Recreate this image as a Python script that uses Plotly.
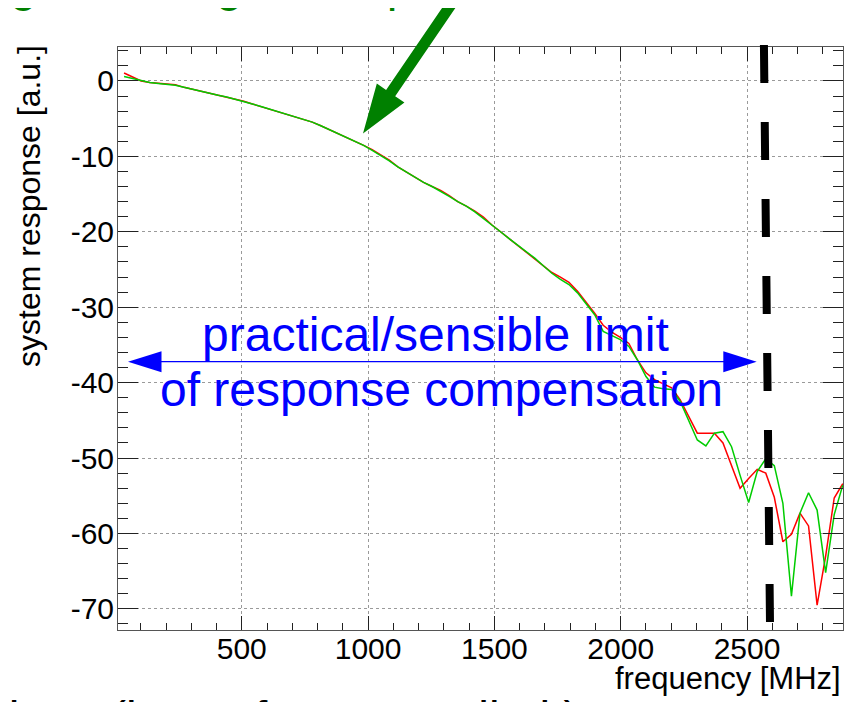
import plotly.graph_objects as go

# ---------------- data ----------------
freq_mhz = [
    34.0, 67.9, 101.7, 135.6, 169.5, 203.4, 237.2, 271.1, 305.0, 338.8,
    372.7, 406.6, 440.4, 474.3, 508.2, 542.0, 575.9, 609.8, 643.7, 677.5,
    711.4, 745.3, 779.1, 813.0, 846.9, 880.7, 914.6, 948.5, 982.4, 1016.2,
    1050.1, 1084.0, 1117.8, 1151.7, 1185.6, 1219.5, 1253.3, 1287.2, 1321.1, 1354.9,
    1388.8, 1422.7, 1456.5, 1490.4, 1524.3, 1558.2, 1592.0, 1625.9, 1659.8, 1693.6,
    1727.5, 1761.4, 1795.2, 1829.1, 1863.0, 1896.9, 1930.7, 1964.6, 1998.5, 2032.3,
    2066.2, 2100.1, 2134.0, 2167.8, 2201.7, 2235.6, 2269.4, 2303.3, 2337.2, 2371.0,
    2404.9, 2438.8, 2472.6, 2506.5, 2540.4, 2574.3, 2608.1, 2642.0, 2675.9, 2709.7,
    2743.6, 2777.5, 2811.3, 2845.2, 2879.1,
]

response_red = [
    1.05, 0.5, 0.0, -0.2, -0.3, -0.4, -0.52, -0.85, -1.1, -1.35,
    -1.65, -1.9, -2.12, -2.4, -2.7, -3.05, -3.4, -3.75, -4.08, -4.42,
    -4.76, -5.1, -5.46, -5.95, -6.45, -7.0, -7.55, -8.0, -8.55, -9.1,
    -9.75, -10.5, -11.4, -12.1, -12.8, -13.45, -14.0, -14.5, -15.2, -16.0,
    -16.6, -17.25, -18.05, -19.1, -20.0, -20.9, -21.75, -22.6, -23.5, -24.5,
    -25.4, -26.0, -26.7, -27.9, -29.3, -30.8, -32.4, -33.3, -34.0, -34.8,
    -37.0, -38.7, -39.6, -40.1, -40.7, -42.3, -44.5, -46.7, -46.7, -46.7,
    -48.0, -51.0, -54.0, -52.7, -51.5, -52.0, -55.2, -61.1, -60.1, -57.3,
    -59.0, -69.5, -63.0, -55.3, -53.4,
]

response_green = [
    0.6, 0.35, 0.0, -0.2, -0.33, -0.45, -0.56, -0.85, -1.12, -1.42,
    -1.72, -1.9, -2.12, -2.4, -2.7, -3.05, -3.4, -3.75, -4.08, -4.42,
    -4.76, -5.1, -5.46, -5.95, -6.45, -7.0, -7.55, -8.0, -8.55, -9.2,
    -9.85, -10.6, -11.4, -12.1, -12.8, -13.45, -14.0, -14.6, -15.3, -16.0,
    -16.6, -17.35, -18.2, -19.1, -20.0, -20.9, -21.75, -22.6, -23.5, -24.5,
    -25.5, -26.3, -27.0, -28.1, -29.5, -31.0, -33.2, -33.8, -34.3, -35.2,
    -37.0, -39.2, -40.6, -40.8, -40.9, -42.5, -45.0, -47.6, -48.4, -46.7,
    -46.5, -48.5, -52.3, -55.9, -51.8, -50.1, -51.0, -56.0, -68.3, -57.3,
    -54.6, -56.9, -65.2, -57.5, -53.6,
]

x_tick_vals = [500, 1000, 1500, 2000, 2500]
x_tick_text = ["500", "1000", "1500", "2000", "2500"]
y_tick_vals = [-70, -60, -50, -40, -30, -20, -10, 0]
y_tick_text = ["-70", "-60", "-50", "-40", "-30", "-20", "-10", "0"]

x_range = [10, 2880]
y_range = [-72.8, 4.5]

limit_top_mhz = 2567      # dashed "limit" line (slightly slanted as drawn)
limit_bottom_mhz = 2591

# ---------------- layout geometry ----------------
# the page body adds an 8 px margin, so the figure is 8 px smaller and
# positions below are given in page pixels
OFF = 8
W, H = 857 - OFF, 702 - OFF
PL, PT, PR, PB = 118, 47, 843, 630          # plot frame in page pixels
ML, MT = PL - OFF, PT - OFF
MR, MB = W - (PR - OFF), H - (PB - OFF)
PW, PH = PR - PL, PB - PT


def px(x):
    return (x - PL) / PW


def py(y):
    return (PB - y) / PH


FONT = "Liberation Sans, Arial, Helvetica, sans-serif"

fig = go.Figure()
fig.add_trace(go.Scatter(x=freq_mhz, y=response_red, mode="lines",
                         line=dict(color="#ff0000", width=1.5), showlegend=False))
fig.add_trace(go.Scatter(x=freq_mhz, y=response_green, mode="lines",
                         line=dict(color="#00cc00", width=1.5), showlegend=False))

axis_common = dict(
    showline=True, linecolor="#555555", linewidth=1, mirror="allticks",
    ticks="inside", tickcolor="#222222", tickwidth=1,
    showgrid=True, gridcolor="#9a9a9a", griddash="dot", gridwidth=1,
    zeroline=False, automargin=False,
    tickfont=dict(family=FONT, size=30, color="black"),
)

fig.update_xaxes(range=x_range, tickmode="array", tickvals=x_tick_vals,
                 ticktext=x_tick_text, ticklen=14, ticklabelstandoff=-8,
                 minor=dict(dtick=100, tick0=0, ticklen=7, ticks="inside",
                            tickcolor="#222222", showgrid=False),
                 **axis_common)
fig.update_yaxes(range=y_range, tickmode="array", tickvals=y_tick_vals,
                 ticktext=y_tick_text, ticklen=20, ticklabelstandoff=-3,
                 minor=dict(dtick=2, tick0=0, ticklen=10, ticks="inside",
                            tickcolor="#222222", showgrid=False),
                 **axis_common)

shapes = []
# dashed black limit line
shapes.append(dict(type="line", xref="x", yref="paper",
                   x0=limit_top_mhz, y0=py(45), x1=limit_bottom_mhz, y1=py(622),
                   line=dict(color="black", width=8, dash="38px,39px")))

# blue double arrow
BLUE = "#0000ff"
ay = 361.7
shapes.append(dict(type="line", xref="paper", yref="paper",
                   x0=px(160), y0=py(ay), x1=px(725), y1=py(ay),
                   line=dict(color=BLUE, width=1.3)))
for tip, base in ((128, 161.5), (756.7, 723.3)):
    path = "M {} {} L {} {} L {} {} Z".format(
        px(tip), py(ay), px(base), py(ay - 10.5), px(base), py(ay + 10.5))
    shapes.append(dict(type="path", xref="paper", yref="paper", path=path,
                       fillcolor=BLUE, line=dict(color=BLUE, width=0)))

# big green arrow (top)
GREEN = "#008000"
tipx, tipy = 363.0, 133.5
dx, dy = -0.564, 0.826          # pointing direction
nx, ny = 0.826, 0.564           # perpendicular
head_len, head_half, shaft_half, shaft_len = 49.0, 16.7, 5.5, 125.0
mx, my = tipx - dx * head_len, tipy - dy * head_len
sx, sy = mx - dx * shaft_len, my - dy * shaft_len
pts = [
    (sx + nx * shaft_half, sy + ny * shaft_half),
    (mx + nx * shaft_half, my + ny * shaft_half),
    (mx + nx * head_half, my + ny * head_half),
    (tipx, tipy),
    (mx - nx * head_half, my - ny * head_half),
    (mx - nx * shaft_half, my - ny * shaft_half),
    (sx - nx * shaft_half, sy - ny * shaft_half),
]
path = "M " + " L ".join("{} {}".format(px(a), py(b)) for a, b in pts) + " Z"
shapes.append(dict(type="path", xref="paper", yref="paper", path=path,
                   fillcolor=GREEN, line=dict(color=GREEN, width=0)))

annotations = []
# axis titles
annotations.append(dict(text="system response [a.u.]", xref="paper", yref="paper",
                        x=px(29), y=py(206), xanchor="center", yanchor="middle",
                        textangle=-90, showarrow=False,
                        font=dict(family=FONT, size=32, color="black")))
annotations.append(dict(text="frequency [MHz]", xref="paper", yref="paper",
                        x=px(843), y=py(678), xanchor="right", yanchor="middle",
                        showarrow=False,
                        font=dict(family=FONT, size=31, color="black")))
# blue annotation text
annotations.append(dict(text="practical/sensible limit", xref="paper", yref="paper",
                        x=px(435), y=py(335), xanchor="center", yanchor="middle",
                        showarrow=False, font=dict(family=FONT, size=48, color=BLUE)))
annotations.append(dict(text="of response compensation", xref="paper", yref="paper",
                        x=px(441), y=py(389), xanchor="center", yanchor="middle",
                        showarrow=False, font=dict(family=FONT, size=48, color=BLUE)))
# slide text cut off at the top (green) and bottom (black)
for word, xpos, anchor in (("averaging", 39, "right"), ("green", 214, "left"),
                           ("response", 318, "left")):
    annotations.append(dict(text=word, xref="paper", yref="paper",
                            x=px(xpos), y=py(-16), xanchor=anchor, yanchor="middle",
                            showarrow=False, font=dict(family=FONT, size=48, color=GREEN)))
annotations.append(dict(text="corrections (lower frequency limit)", xref="paper", yref="paper",
                        x=px(-140), y=py(718), xanchor="left", yanchor="middle",
                        showarrow=False, font=dict(family=FONT, size=48, color="black")))

fig.update_layout(
    width=W, height=H,
    margin=dict(l=ML, r=MR, t=MT, b=MB, pad=0, autoexpand=False),
    paper_bgcolor="white", plot_bgcolor="white",
    shapes=shapes, annotations=annotations,
    font=dict(family=FONT),
)

fig.write_html("out.html")
